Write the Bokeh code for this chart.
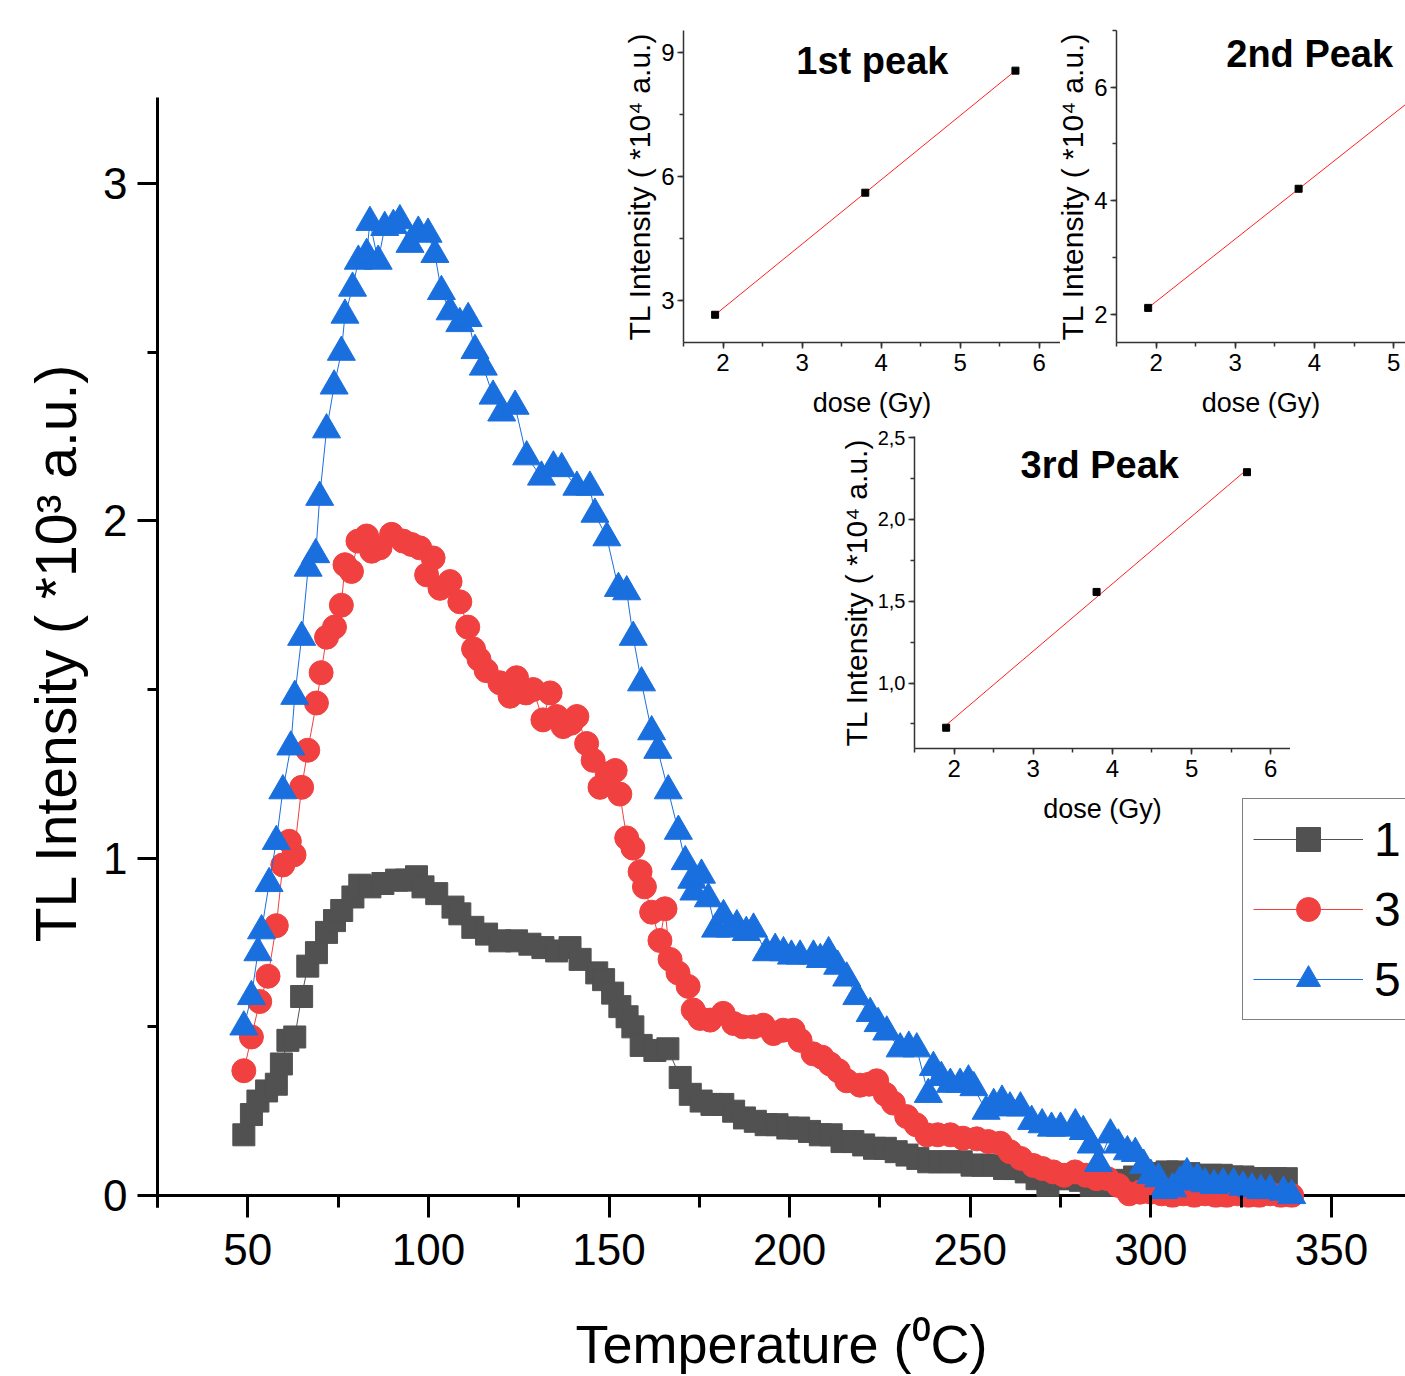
import numpy as np
from bokeh.plotting import figure
from bokeh.models import (Range1d, SingleIntervalTicker, Legend, LegendItem, Label, Span,
                          CustomJSTickFormatter)
from bokeh.embed import file_html
from bokeh.resources import INLINE

# ---------------- data ----------------
series_labels = ["1", "3", "5"]

temp_a = [48.9, 51.0, 52.8, 55.2, 57.9, 59.3, 61.1, 63.0, 64.9, 66.6, 69.0, 71.8, 74.0, 76.0,
          79.1, 81.0, 83.8, 87.4, 91.2, 93.9, 96.7, 98.5, 102.3, 106.8, 108.7, 112.3, 116.1,
          119.8, 124.4, 128.1, 131.7, 135.5, 139.2, 142.0, 146.6, 148.5, 151.0, 153.0, 155.0,
          156.6, 158.9, 162.7, 166.3, 169.7, 172.5, 175.5, 178.5, 181.5, 184.5, 187.5, 190.5,
          193.5, 196.5, 199.5, 202.5, 205.5, 208.5, 211.5, 214.5, 217.5, 220.5, 223.5, 226.5,
          229.5, 232.5, 235.5, 238.5, 241.5, 244.5, 247.5, 250.5, 253.5, 256.5, 259.5, 262.5,
          265.5, 268.5, 271.5, 274.5, 277.5, 280.5, 283.5, 286.5, 289.5, 292.5, 295.5, 298.5,
          301.5, 304.5, 307.5, 310.5, 313.5, 316.5, 319.5, 322.5, 325.5, 328.5, 331.5, 334.5,
          337.5]
tl_a = [0.18, 0.24, 0.28, 0.31, 0.33, 0.39, 0.46, 0.47, 0.59, 0.68, 0.72, 0.78, 0.815, 0.845,
        0.885, 0.92, 0.915, 0.925, 0.935, 0.935, 0.945, 0.915, 0.895, 0.855, 0.835, 0.795, 0.775,
        0.755, 0.755, 0.745, 0.735, 0.725, 0.735, 0.70, 0.66, 0.64, 0.60, 0.56, 0.53,
        0.50, 0.445, 0.43, 0.435, 0.35, 0.30, 0.28, 0.27, 0.27, 0.25, 0.23, 0.22,
        0.21, 0.21, 0.20, 0.20, 0.19, 0.18, 0.18, 0.16, 0.16, 0.15, 0.14, 0.14,
        0.13, 0.12, 0.11, 0.10, 0.10, 0.10, 0.10, 0.09, 0.09, 0.09, 0.08, 0.08,
        0.07, 0.05, 0.03, 0.05, 0.05, 0.045, 0.03, 0.03, 0.04, 0.045, 0.055, 0.06,
        0.065, 0.07, 0.07, 0.065, 0.06, 0.06, 0.06, 0.055, 0.055, 0.05, 0.05, 0.05,
        0.05]

temp_b = [48.9, 51.0, 53.3, 55.6, 57.9, 59.7, 61.5, 62.8, 64.9, 66.6, 69.0, 70.3, 71.8, 74.0,
          75.9, 76.9, 78.7, 80.5, 82.9, 84.3, 86.6, 89.8, 93.0, 95.3, 97.6, 99.5, 101.3, 103.2,
          106.0, 108.7, 110.9, 112.5, 114.0, 116.0, 119.8, 122.6, 124.4, 127.0, 129.0, 131.7,
          133.7, 135.5, 137.3, 139.5, 141.1, 143.8, 145.6, 147.5, 149.5, 151.7, 153.0, 154.9,
          156.6, 158.6, 159.8, 161.8, 164.1, 165.5, 166.9, 169.1, 171.9, 173.3, 175.2, 178.0,
          181.6, 184.5, 187.1, 190.0, 192.7, 195.5, 198.2, 201.0, 202.9, 206.5, 209.0, 211.2,
          213.5, 215.8, 219.5, 222.0, 224.1, 226.5, 228.7, 232.4, 235.0, 238.0, 241.0, 244.5,
          248.0, 251.8, 255.0, 258.3, 261.0, 264.0, 267.5, 270.0, 273.0, 276.0, 279.0, 282.0,
          285.0, 288.0, 291.0, 294.0, 297.0, 300.0, 303.0, 306.0, 309.0, 312.0, 315.0, 318.0,
          321.0, 324.0, 327.0, 330.0, 333.0, 336.0, 339.0]
tl_b = [0.37, 0.47, 0.575, 0.65, 0.80, 0.98, 1.05, 1.01, 1.21, 1.32, 1.46, 1.55, 1.655, 1.685,
        1.75, 1.87, 1.85, 1.94, 1.955, 1.91, 1.92, 1.96, 1.94, 1.93, 1.92, 1.84, 1.89, 1.80,
        1.82, 1.76, 1.685, 1.62, 1.59, 1.556, 1.52, 1.48, 1.535, 1.49, 1.50, 1.41,
        1.49, 1.42, 1.39, 1.40, 1.42, 1.34, 1.29, 1.21, 1.25, 1.26, 1.19, 1.06,
        1.03, 0.96, 0.915, 0.84, 0.756, 0.85, 0.70, 0.66, 0.62, 0.55, 0.525, 0.52,
        0.54, 0.51, 0.50, 0.50, 0.505, 0.48, 0.49, 0.49, 0.46, 0.42, 0.41, 0.39,
        0.37, 0.34, 0.327, 0.33, 0.34, 0.30, 0.274, 0.234, 0.21, 0.18, 0.18, 0.18,
        0.17, 0.168, 0.16, 0.155, 0.13, 0.11, 0.089, 0.08, 0.07, 0.06, 0.07, 0.06,
        0.05, 0.05, 0.03, 0.005, 0.01, 0.01, 0.005, 0.0, 0.005, 0.0, 0.005, 0.0,
        0.0, 0.005, 0.0, 0.0, 0.005, 0.0, 0.0]

temp_c = [48.9, 51.0, 52.8, 53.8, 55.9, 57.9, 59.7, 61.9, 63.0, 64.9, 66.7, 68.8, 69.9, 71.8,
          73.9, 75.9, 76.9, 79.0, 80.6, 82.9, 83.8, 86.1, 87.9, 90.3, 92.1, 94.9, 97.2, 99.9,
          101.8, 103.6, 106.0, 108.7, 111.0, 112.9, 115.2, 117.9, 120.3, 124.0, 127.2, 131.3,
          134.6, 136.9, 141.1, 144.7, 146.1, 149.4, 152.6, 154.9, 156.7, 159.0, 161.8, 163.5,
          166.4, 169.2, 171.1, 172.9, 173.5, 175.6, 177.5, 179.5, 181.7, 183.5, 185.4, 188.0,
          190.0, 193.6, 196.0, 198.3, 200.5, 202.9, 206.6, 208.5, 210.8, 213.3, 215.8, 218.6,
          222.3, 224.5, 226.9, 230.6, 233.0, 235.2, 238.4, 239.8, 242.0, 244.5, 247.2, 249.5,
          251.0, 254.4, 256.5, 258.8, 261.0, 263.9, 267.0, 269.9, 272.5, 275.0, 279.1, 281.3,
          283.5, 285.5, 288.8, 291.0, 293.5, 295.7, 298.0, 300.0, 302.1, 303.5, 306.0, 308.0,
          310.0, 312.9, 315.0, 317.5, 320.0, 322.9, 325.5, 328.0, 330.5, 333.0, 336.7, 339.0]
tl_c = [0.50, 0.59, 0.72, 0.785, 0.925, 1.05, 1.20, 1.33, 1.48, 1.655, 1.86, 1.90, 2.07, 2.27,
        2.40, 2.50, 2.61, 2.69, 2.77, 2.79, 2.885, 2.77, 2.87, 2.876, 2.89, 2.82, 2.856, 2.85,
        2.79, 2.68, 2.62, 2.585, 2.60, 2.505, 2.456, 2.37, 2.32, 2.34, 2.19, 2.13,
        2.16, 2.155, 2.10, 2.10, 2.02, 1.95, 1.80, 1.79, 1.655, 1.52, 1.375, 1.32,
        1.20, 1.08, 0.99, 0.935, 0.90, 0.95, 0.88, 0.79, 0.83, 0.79, 0.80, 0.78,
        0.79, 0.72, 0.73, 0.72, 0.71, 0.71, 0.71, 0.70, 0.72, 0.68, 0.645, 0.59,
        0.54, 0.51, 0.485, 0.435, 0.44, 0.435, 0.30, 0.38, 0.35, 0.33, 0.33, 0.34,
        0.32, 0.25, 0.27, 0.28, 0.26, 0.26, 0.22, 0.21, 0.20, 0.20, 0.21, 0.19,
        0.15, 0.095, 0.18, 0.15, 0.13, 0.125, 0.09, 0.06, 0.05, 0.015, 0.02, 0.04,
        0.065, 0.05, 0.035, 0.03, 0.035, 0.035, 0.025, 0.02, 0.015, 0.015, 0.01, 0.0]

dose_gy = [1.9, 3.8, 5.7]
peak1_tl = [2.66, 5.61, 8.56]
peak2_tl = [2.11, 4.21, 6.30]
peak3_tl = [0.727, 1.557, 2.289]

inset_titles = ["1st peak", "2nd Peak", "3rd Peak"]

# ---------------- styles ----------------
FONT = "Liberation Sans"
C_GRAY, C_RED, C_BLUE = "#515151", "#F14040", "#1A6FDF"

# ---------------- main plot ----------------
p = figure(width=1405, height=1376, x_range=Range1d(25, 370.5), y_range=Range1d(-0.0355, 3.255),
           output_backend="svg", toolbar_location=None,
           min_border_left=157, min_border_right=0, min_border_top=97, min_border_bottom=169)
p.outline_line_color = None
p.grid.visible = False
p.background_fill_color = "white"
p.border_fill_color = "white"

# x-axis line drawn at zero intensity, beneath the markers
p.add_layout(Span(location=0, dimension="width", line_color="black", line_width=3,
                  level="underlay"))

renderers = []
for t, v, col, marker, size in [(temp_a, tl_a, C_GRAY, "square", 22),
                                (temp_b, tl_b, C_RED, "circle", 24),
                                (temp_c, tl_c, C_BLUE, "triangle", 28)]:
    lr = p.line(t, v, line_color=col, line_width=1)
    sr = p.scatter(t, v, marker=marker, size=size, fill_color=col, line_color=col)
    renderers.append((lr, sr))

p.xaxis.ticker = SingleIntervalTicker(interval=50, num_minor_ticks=2)
p.yaxis.ticker = SingleIntervalTicker(interval=1, num_minor_ticks=2)
for ax in (p.xaxis[0], p.yaxis[0]):
    ax.axis_line_width = 3
    ax.axis_line_color = "black"
    ax.major_tick_line_width = 3
    ax.minor_tick_line_width = 3
    ax.major_tick_line_color = "black"
    ax.minor_tick_line_color = "black"
    ax.major_label_text_font = FONT
    ax.major_label_text_font_size = "44px"
    ax.major_label_text_color = "black"
    ax.axis_label_text_font = FONT
    ax.axis_label_text_font_style = "normal"
    ax.axis_label_text_color = "black"
# bottom axis sits at the frame edge just below zero: its own line is hidden,
# ticks reach up to the zero line
p.xaxis.axis_line_color = None
p.xaxis.major_tick_in = 12
p.xaxis.major_tick_out = 10
p.xaxis.minor_tick_in = 12
p.xaxis.minor_tick_out = 0
p.yaxis.major_tick_in = 0
p.yaxis.minor_tick_in = 0
p.yaxis.major_tick_out = 20
p.yaxis.minor_tick_out = 10
p.xaxis.major_label_standoff = 16
p.yaxis.major_label_standoff = 10
p.xaxis.axis_label = "Temperature (\u2070C)"
p.xaxis.axis_label_text_font_size = "54px"
p.xaxis.axis_label_standoff = 46
p.yaxis.axis_label = "TL Intensity ( *10\u00b3 a.u.)"
p.yaxis.axis_label_text_font_size = "57px"
p.yaxis.axis_label_standoff = 12

legend = Legend(items=[LegendItem(label=lab, renderers=list(r))
                       for lab, r in zip(series_labels, renderers)],
                location=(1085, 187), margin=0, padding=10, spacing=10,
                glyph_width=110, glyph_height=60, label_standoff=11,
                label_text_font=FONT, label_text_font_size="48px", label_text_color="black",
                border_line_color="black", border_line_width=1.5,
                background_fill_color="white", background_fill_alpha=1.0)
p.add_layout(legend)


# ---------------- insets ----------------
def make_inset(w, h, bl, x_rng, y_rng, y_int, peaks, title, title_xy, left, top, ytick_size="24px",
               y_formatter=None):
    f = figure(width=w, height=h, x_range=Range1d(*x_rng), y_range=Range1d(*y_rng),
               output_backend="svg", toolbar_location=None,
               min_border_left=bl, min_border_right=0, min_border_top=10, min_border_bottom=88)
    f.outline_line_color = None
    f.grid.visible = False
    f.background_fill_color = None
    f.border_fill_color = None
    f.xaxis.ticker = SingleIntervalTicker(interval=1, num_minor_ticks=2)
    f.yaxis.ticker = SingleIntervalTicker(interval=y_int, num_minor_ticks=2)
    if y_formatter is not None:
        f.yaxis.formatter = y_formatter
    for ax in (f.xaxis[0], f.yaxis[0]):
        ax.axis_line_color = "#333333"
        ax.axis_line_width = 1.5
        ax.major_tick_line_color = "#333333"
        ax.minor_tick_line_color = "#333333"
        ax.major_tick_line_width = 1.5
        ax.minor_tick_line_width = 1.5
        ax.major_tick_in = 0
        ax.minor_tick_in = 0
        ax.major_tick_out = 6
        ax.minor_tick_out = 4
        ax.major_label_text_font = FONT
        ax.major_label_text_color = "black"
        ax.axis_label_text_font = FONT
        ax.axis_label_text_font_style = "normal"
        ax.axis_label_text_color = "black"
    f.xaxis.major_label_text_font_size = "24px"
    f.yaxis.major_label_text_font_size = ytick_size
    f.xaxis.major_label_standoff = 5
    f.yaxis.major_label_standoff = 3
    f.xaxis.axis_label = "dose (Gy)"
    f.xaxis.axis_label_text_font_size = "27px"
    f.xaxis.axis_label_standoff = 14
    f.yaxis.axis_label = "TL Intensity ( *10\u2074 a.u.)"
    f.yaxis.axis_label_text_font_size = "30px"
    f.yaxis.axis_label_standoff = 2

    slope, icpt = np.polyfit(dose_gy, peaks, 1)
    xs = [dose_gy[0], dose_gy[-1]]
    f.line(xs, [slope * x + icpt for x in xs], line_color="#FF2020", line_width=1)
    f.scatter(dose_gy, peaks, marker="square", size=7, fill_color="black", line_color="black")
    f.add_layout(Label(x=title_xy[0], y=title_xy[1], text=title, text_align="center",
                       text_baseline="middle", text_font=FONT, text_font_style="bold",
                       text_font_size="38px", text_color="black"))
    f.styles = {"position": "absolute", "left": f"{left}px", "top": f"{top}px"}
    return f


comma_fmt = CustomJSTickFormatter(code="return tick.toFixed(1).replace('.', ',')")

in1 = make_inset(440, 410, 61, (1.5, 6.27), (1.99, 9.53), 3, peak1_tl, inset_titles[0],
                 (3.89, 8.80), 620, 20)
in2 = make_inset(352, 410, 60, (1.5, 5.15), (1.5, 7.0), 2, peak2_tl, inset_titles[1],
                 (3.94, 6.59), 1053, 20)
in3 = make_inset(454, 410, 75, (1.5, 6.25), (0.6, 2.507), 0.5, peak3_tl, inset_titles[2],
                 (3.84, 2.33), 836, 426, ytick_size="20px", y_formatter=comma_fmt)

roots = [p, in1, in2, in3]
open("out.html", "w").write(file_html(roots, INLINE))
